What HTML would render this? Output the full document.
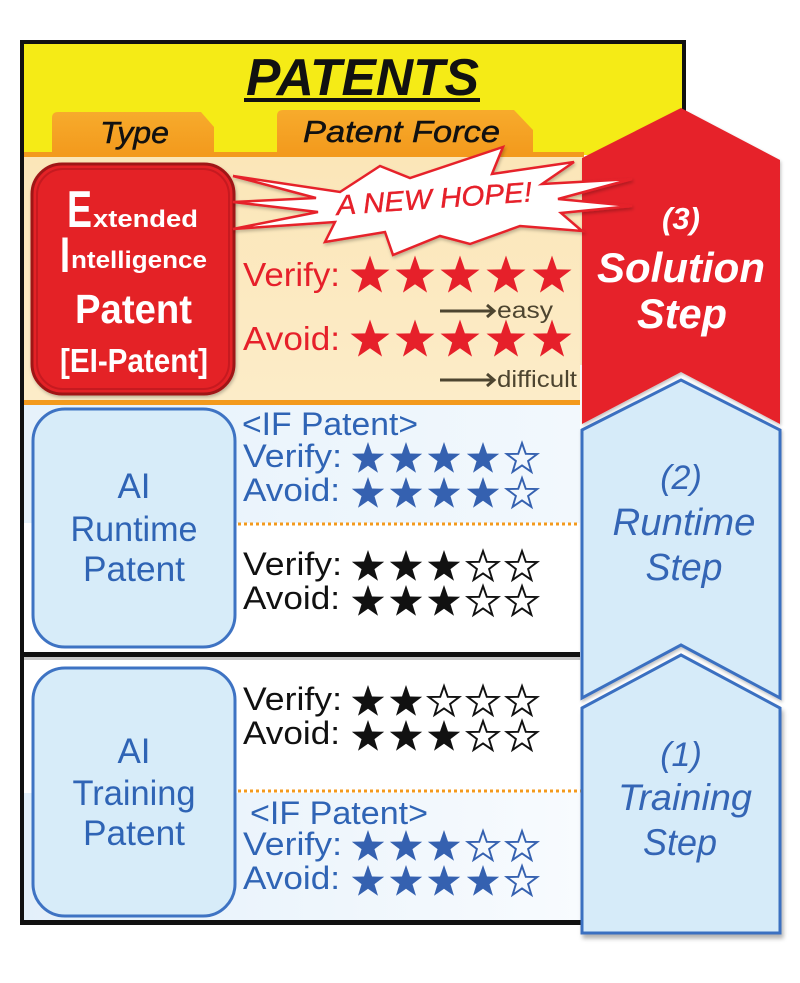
<!DOCTYPE html>
<html><head><meta charset="utf-8"><style>
html,body{margin:0;padding:0;background:#fff;}
svg{display:block;font-family:"Liberation Sans",Arial,sans-serif;}
</style></head><body>
<svg width="800" height="983" viewBox="0 0 800 983" xmlns="http://www.w3.org/2000/svg">
<defs>
<path id="st" d="M0,-1 L0.2351,-0.3236 L0.9511,-0.309 L0.3804,0.1236 L0.5878,0.809 L0,0.4 L-0.5878,0.809 L-0.3804,0.1236 L-0.9511,-0.309 L-0.2351,-0.3236 Z"/>
<linearGradient id="tab" x1="0" y1="0" x2="0" y2="1"><stop offset="0" stop-color="#f7ab2c"/><stop offset="1" stop-color="#f39a1d"/></linearGradient>
<linearGradient id="lb" x1="0" y1="0" x2="1" y2="0"><stop offset="0" stop-color="#e6f2fb"/><stop offset="1" stop-color="#f2f8fd"/></linearGradient>
<linearGradient id="lb2" x1="0" y1="0" x2="1" y2="0"><stop offset="0" stop-color="#e3f0fa"/><stop offset="1" stop-color="#f8fbfe"/></linearGradient>
<linearGradient id="peach" x1="0" y1="0" x2="0" y2="1"><stop offset="0" stop-color="#fbe6b8"/><stop offset="1" stop-color="#fcecc8"/></linearGradient>
<filter id="sh" x="-10%" y="-10%" width="130%" height="130%"><feDropShadow dx="2" dy="4" stdDeviation="2" flood-color="#000" flood-opacity="0.3"/></filter>
<filter id="sh2" x="-10%" y="-20%" width="130%" height="150%"><feDropShadow dx="1" dy="2" stdDeviation="1.5" flood-color="#000" flood-opacity="0.25"/></filter>
</defs>
<rect x="0" y="0" width="800" height="983" fill="#fff"/>

<!-- header -->
<rect x="22" y="42" width="662" height="113" fill="#f5eb16"/>
<!-- sections -->
<rect x="24" y="156" width="560" height="245" fill="url(#peach)"/>
<rect x="24" y="152" width="560" height="5" fill="#f39a1d"/>
<rect x="24" y="400" width="560" height="5" fill="#f39a1d"/>
<rect x="24" y="405" width="560" height="118" fill="url(#lb)"/>
<rect x="24" y="525" width="560" height="127" fill="#fff"/>
<line x1="238" y1="524" x2="584" y2="524" stroke="#f39a1d" stroke-width="3" stroke-dasharray="3 3"/>
<rect x="24" y="657" width="560" height="134" fill="#fff"/>
<rect x="24" y="793" width="560" height="128" fill="url(#lb2)"/>
<line x1="238" y1="791" x2="584" y2="791" stroke="#f39a1d" stroke-width="3" stroke-dasharray="3 3"/>
<rect x="20" y="652" width="566" height="5" fill="#111"/>
<rect x="24" y="657" width="560" height="3" fill="#c8c8c8"/>

<!-- frame -->
<rect x="20" y="40" width="666" height="4" fill="#111"/>
<rect x="20" y="40" width="4" height="885" fill="#111"/>
<rect x="20" y="920" width="566" height="5" fill="#111"/>
<rect x="682" y="40" width="4" height="100" fill="#111"/>

<!-- title -->
<text x="246" y="95" font-size="52" font-weight="bold" font-style="italic" fill="#111" textLength="233" lengthAdjust="spacingAndGlyphs">PATENTS</text>
<rect x="244" y="98" width="236" height="4" fill="#111"/>

<!-- tabs -->
<path d="M52,154 L52,118 Q52,112 58,112 L201,112 L214,127 L214,154 Z" fill="url(#tab)"/>
<path d="M277,154 L277,116 Q277,110 283,110 L514,110 L533,130 L533,154 Z" fill="url(#tab)"/>
<text x="100" y="143" font-size="31" font-style="italic" fill="#111" stroke="#111" stroke-width="0.5" textLength="69" lengthAdjust="spacingAndGlyphs">Type</text>
<text x="303" y="142" font-size="31" font-style="italic" fill="#111" stroke="#111" stroke-width="0.5" textLength="197" lengthAdjust="spacingAndGlyphs">Patent Force</text>

<!-- EI red box -->
<rect x="32" y="164" width="202" height="230" rx="30" fill="#e42128" stroke="#9f1419" stroke-width="3" filter="url(#sh2)"/>
<rect x="37" y="169" width="192" height="220" rx="26" fill="none" stroke="#c61a20" stroke-width="2"/>
<g fill="#fff" font-weight="bold">
<text x="67" y="227" font-size="52" textLength="25" lengthAdjust="spacingAndGlyphs">E</text>
<text x="93" y="227" font-size="24" textLength="105" lengthAdjust="spacingAndGlyphs">xtended</text>
<text x="60" y="272" font-size="50" textLength="10" lengthAdjust="spacingAndGlyphs">I</text>
<text x="71" y="268" font-size="24" textLength="136" lengthAdjust="spacingAndGlyphs">ntelligence</text>
<text x="75" y="323" font-size="41" textLength="117" lengthAdjust="spacingAndGlyphs">Patent</text>
<text x="60" y="372" font-size="33" textLength="148" lengthAdjust="spacingAndGlyphs">[EI-Patent]</text>
</g>

<!-- EI rows -->
<g fill="#e6202a">
<text x="243" y="286" font-size="33" textLength="97" lengthAdjust="spacingAndGlyphs">Verify:</text>
<text x="243" y="350" font-size="33" textLength="97" lengthAdjust="spacingAndGlyphs">Avoid:</text>
<use href="#st" transform="translate(370,276) scale(20.5)"/>
<use href="#st" transform="translate(415,276) scale(20.5)"/>
<use href="#st" transform="translate(460,276) scale(20.5)"/>
<use href="#st" transform="translate(506,276) scale(20.5)"/>
<use href="#st" transform="translate(552,276) scale(20.5)"/>
<use href="#st" transform="translate(370,340) scale(20.5)"/>
<use href="#st" transform="translate(415,340) scale(20.5)"/>
<use href="#st" transform="translate(460,340) scale(20.5)"/>
<use href="#st" transform="translate(506,340) scale(20.5)"/>
<use href="#st" transform="translate(552,340) scale(20.5)"/>
</g>
<g stroke="#4d4530" stroke-width="3" fill="none">
<line x1="440" y1="311" x2="492" y2="311"/>
<polyline points="487,305 494,311 487,317"/>
<line x1="440" y1="380" x2="492" y2="380"/>
<polyline points="487,374 494,380 487,386"/>
</g>
<text x="497" y="318" font-size="23" fill="#4d4530" textLength="56" lengthAdjust="spacingAndGlyphs">easy</text>
<text x="497" y="387" font-size="23" fill="#4d4530" textLength="80" lengthAdjust="spacingAndGlyphs">difficult</text>

<!-- blue boxes -->
<rect x="33" y="409" width="202" height="238" rx="32" fill="#d7ecf9" stroke="#3e73c3" stroke-width="3"/>
<rect x="33" y="668" width="202" height="248" rx="32" fill="#d7ecf9" stroke="#3e73c3" stroke-width="3"/>
<g fill="#2f64b5" font-size="35" text-anchor="middle">
<text x="134" y="498">AI</text>
<text x="134" y="541" textLength="127" lengthAdjust="spacingAndGlyphs">Runtime</text>
<text x="134" y="581" textLength="102" lengthAdjust="spacingAndGlyphs">Patent</text>
<text x="134" y="763">AI</text>
<text x="134" y="805" textLength="123" lengthAdjust="spacingAndGlyphs">Training</text>
<text x="134" y="845" textLength="102" lengthAdjust="spacingAndGlyphs">Patent</text>
</g>

<!-- runtime rows -->
<g fill="#2f64b5" font-size="32">
<text x="242" y="435" textLength="176" lengthAdjust="spacingAndGlyphs">&lt;IF Patent&gt;</text>
<text x="243" y="467" textLength="99" lengthAdjust="spacingAndGlyphs">Verify:</text>
<text x="243" y="501" textLength="97" lengthAdjust="spacingAndGlyphs">Avoid:</text>
<text x="250" y="824" textLength="178" lengthAdjust="spacingAndGlyphs">&lt;IF Patent&gt;</text>
<text x="243" y="855" textLength="99" lengthAdjust="spacingAndGlyphs">Verify:</text>
<text x="243" y="889" textLength="97" lengthAdjust="spacingAndGlyphs">Avoid:</text>
</g>
<g fill="#111" font-size="32">
<text x="243" y="575" textLength="99" lengthAdjust="spacingAndGlyphs">Verify:</text>
<text x="243" y="609" textLength="97" lengthAdjust="spacingAndGlyphs">Avoid:</text>
<text x="243" y="710" textLength="99" lengthAdjust="spacingAndGlyphs">Verify:</text>
<text x="243" y="744" textLength="97" lengthAdjust="spacingAndGlyphs">Avoid:</text>
</g>

<!-- blue stars -->
<g fill="#3561b0">
<use href="#st" transform="translate(368,459) scale(17)"/>
<use href="#st" transform="translate(406,459) scale(17)"/>
<use href="#st" transform="translate(444,459) scale(17)"/>
<use href="#st" transform="translate(483,459) scale(17)"/>
<use href="#st" transform="translate(368,494) scale(17)"/>
<use href="#st" transform="translate(406,494) scale(17)"/>
<use href="#st" transform="translate(444,494) scale(17)"/>
<use href="#st" transform="translate(483,494) scale(17)"/>
<use href="#st" transform="translate(368,847) scale(17)"/>
<use href="#st" transform="translate(406,847) scale(17)"/>
<use href="#st" transform="translate(444,847) scale(17)"/>
<use href="#st" transform="translate(368,882) scale(17)"/>
<use href="#st" transform="translate(406,882) scale(17)"/>
<use href="#st" transform="translate(444,882) scale(17)"/>
<use href="#st" transform="translate(483,882) scale(17)"/>
</g>
<g fill="none" stroke="#3561b0" stroke-width="0.12">
<use href="#st" transform="translate(522,459) scale(16)"/>
<use href="#st" transform="translate(522,494) scale(16)"/>
<use href="#st" transform="translate(483,847) scale(16)"/>
<use href="#st" transform="translate(522,847) scale(16)"/>
<use href="#st" transform="translate(522,882) scale(16)"/>
</g>
<!-- black stars -->
<g fill="#111">
<use href="#st" transform="translate(368,567) scale(17)"/>
<use href="#st" transform="translate(406,567) scale(17)"/>
<use href="#st" transform="translate(444,567) scale(17)"/>
<use href="#st" transform="translate(368,602) scale(17)"/>
<use href="#st" transform="translate(406,602) scale(17)"/>
<use href="#st" transform="translate(444,602) scale(17)"/>
<use href="#st" transform="translate(368,702) scale(17)"/>
<use href="#st" transform="translate(406,702) scale(17)"/>
<use href="#st" transform="translate(368,737) scale(17)"/>
<use href="#st" transform="translate(406,737) scale(17)"/>
<use href="#st" transform="translate(444,737) scale(17)"/>
</g>
<g fill="none" stroke="#111" stroke-width="0.12">
<use href="#st" transform="translate(483,567) scale(16)"/>
<use href="#st" transform="translate(522,567) scale(16)"/>
<use href="#st" transform="translate(483,602) scale(16)"/>
<use href="#st" transform="translate(522,602) scale(16)"/>
<use href="#st" transform="translate(444,702) scale(16)"/>
<use href="#st" transform="translate(483,702) scale(16)"/>
<use href="#st" transform="translate(522,702) scale(16)"/>
<use href="#st" transform="translate(483,737) scale(16)"/>
<use href="#st" transform="translate(522,737) scale(16)"/>
</g>

<!-- arrows -->
<rect x="580" y="365" width="203" height="350" fill="#fff"/>
<polygon points="582,708 681,655 780,708 780,933 582,933" fill="#d6ebf9" stroke="#3b6fc1" stroke-width="3" filter="url(#sh)"/>
<polygon points="582,430 681,380 780,430 780,698 681,645 582,698" fill="#d6ebf9" stroke="#3b6fc1" stroke-width="3" filter="url(#sh2)"/>
<polygon points="582,158 681,108 780,160 780,424 681,372 582,424" fill="#e6202a" filter="url(#sh2)"/>

<!-- starburst -->
<polygon points="233,176 340,192 380,166 410,178 503,147 492,174 574,162 542,184 632,179 558,199 632,206 561,213 582,231 520,226 470,244 440,236 393,255 385,232 325,242 335,222 233,229 318,212 233,202 316,198" fill="#fff" stroke="#e6202a" stroke-width="2.5" stroke-linejoin="miter" filter="url(#sh2)"/>
<text transform="translate(337,215) rotate(-4)" font-size="28" font-style="italic" fill="#e6202a" stroke="#e6202a" stroke-width="0.4" textLength="196" lengthAdjust="spacingAndGlyphs">A NEW HOPE!</text>

<!-- arrow texts -->
<g fill="#fff" font-weight="bold" font-style="italic" text-anchor="middle">
<text x="681" y="229" font-size="31">(3)</text>
<text x="681" y="282" font-size="42" textLength="168" lengthAdjust="spacingAndGlyphs">Solution</text>
<text x="682" y="328" font-size="42" textLength="90" lengthAdjust="spacingAndGlyphs">Step</text>
</g>
<g fill="#3465b5" font-style="italic" text-anchor="middle">
<text x="681" y="489" font-size="34">(2)</text>
<text x="684" y="535" font-size="38" textLength="143" lengthAdjust="spacingAndGlyphs">Runtime</text>
<text x="684" y="580" font-size="38" textLength="77" lengthAdjust="spacingAndGlyphs">Step</text>
<text x="681" y="766" font-size="34">(1)</text>
<text x="685" y="810" font-size="37" textLength="134" lengthAdjust="spacingAndGlyphs">Training</text>
<text x="680" y="855" font-size="37" textLength="74" lengthAdjust="spacingAndGlyphs">Step</text>
</g>
</svg>
</body></html>
